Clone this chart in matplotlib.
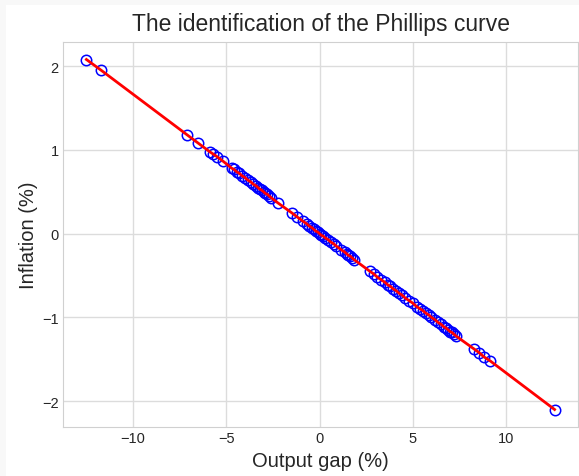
import matplotlib
matplotlib.use("Agg")
import matplotlib.pyplot as plt
from matplotlib.patches import Rectangle

# Output gap (%) values
output_gap = [
    -12.5, -11.7,
    -7.1, -6.5, -5.9, -5.7, -5.5, -5.2,
    -4.7, -4.6, -4.45, -4.3, -4.15, -4.0, -3.85, -3.7, -3.55, -3.4,
    -3.3, -3.2, -3.1, -3.0, -2.9, -2.8, -2.7, -2.6,
    -2.25, -1.5, -1.2, -0.9,
    -0.7, -0.55, -0.4, -0.3, -0.2, -0.1, 0.0, 0.1, 0.2, 0.3, 0.45, 0.6, 0.75, 0.9,
    1.15, 1.35, 1.45, 1.55, 1.65, 1.75, 1.85,
    2.7,
    2.9, 3.1, 3.3, 3.5, 3.65, 3.8, 3.95, 4.1, 4.25, 4.4, 4.6, 4.8, 5.0, 5.2,
    5.4, 5.55, 5.7, 5.85, 6.0, 6.2, 6.35, 6.5, 6.65, 6.8, 6.9, 7.0, 7.1, 7.2, 7.3,
    8.3, 8.55, 8.8, 9.15,
    12.6,
]

# Inflation (%) values
inflation = [
    2.08, 1.95,
    1.18, 1.08, 0.98, 0.95, 0.92, 0.87,
    0.78, 0.77, 0.74, 0.72, 0.69, 0.67, 0.64, 0.62, 0.59, 0.57,
    0.55, 0.53, 0.52, 0.50, 0.48, 0.47, 0.45, 0.43,
    0.37, 0.25, 0.20, 0.15,
    0.12, 0.09, 0.07, 0.05, 0.03, 0.02, 0.00, -0.02, -0.03, -0.05, -0.07, -0.10, -0.12, -0.15,
    -0.19, -0.22, -0.24, -0.26, -0.27, -0.29, -0.31,
    -0.45,
    -0.48, -0.52, -0.55, -0.58, -0.61, -0.63, -0.66, -0.68, -0.71, -0.73, -0.77, -0.80, -0.83, -0.87,
    -0.90, -0.92, -0.95, -0.97, -1.00, -1.03, -1.06, -1.08, -1.11, -1.13, -1.15, -1.17, -1.18, -1.20, -1.22,
    -1.38, -1.42, -1.47, -1.52,
    -2.10,
]

x_ticks = [-10, -5, 0, 5, 10]
y_ticks = [-2, -1, 0, 1, 2]

plt.rcParams['font.family'] = ['Liberation Sans', 'DejaVu Sans']

fig = plt.figure(figsize=(5.79, 4.77), dpi=100, facecolor='#f8f8f8')
fig.patches.append(Rectangle((6 / 579, 0), 1, 1 - 6 / 477, transform=fig.transFigure,
                             facecolor='white', edgecolor='none', zorder=-10))
ax = fig.add_axes([63 / 579, 49 / 477, (578 - 63) / 579, (434 - 49) / 477])
ax.set_facecolor('white')

ax.plot(output_gap, inflation, 'o', markerfacecolor='none', markeredgecolor='blue',
        markersize=7.5, markeredgewidth=1.1, zorder=3)
ax.plot(output_gap, inflation, '-', color='red', linewidth=2, zorder=4)

ax.set_xticks(x_ticks)
ax.set_yticks(y_ticks)
ax.grid(True, color='#dcdcdc', linewidth=1)
ax.set_axisbelow(True)
for s in ax.spines.values():
    s.set_color('#d0d0d0')
ax.tick_params(axis='x', length=0, labelsize=10.5, colors='#262626', pad=3)
ax.tick_params(axis='y', length=0, labelsize=10.5, colors='#262626', pad=3)
ax.set_xlabel('Output gap (%)', fontsize=14.5, color='#262626', labelpad=4)
ax.set_ylabel('Inflation (%)', fontsize=14.5, color='#262626', labelpad=3)
ax.set_title('The identification of the Phillips curve', fontsize=16.5, color='#262626', pad=9)

fig.savefig('out.png', dpi=100, facecolor=fig.get_facecolor())
